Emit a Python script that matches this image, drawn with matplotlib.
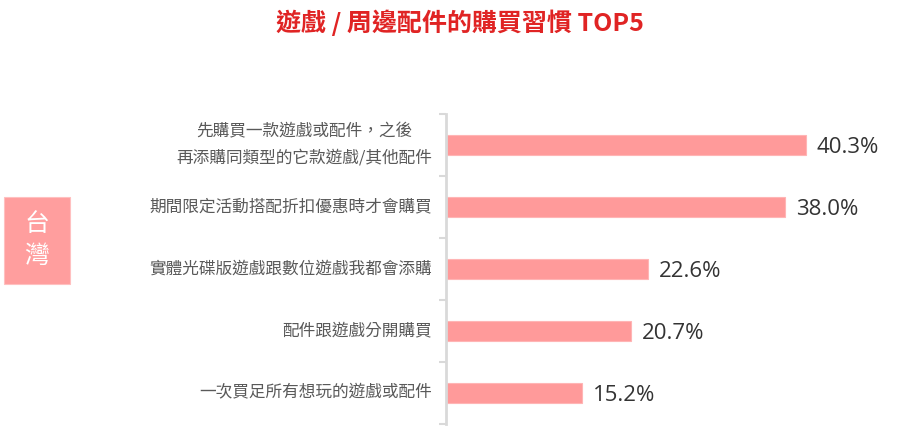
import matplotlib.pyplot as plt
import matplotlib.patches as mpatches

plt.rcParams['font.family'] = ['Noto Sans CJK TC', 'DejaVu Sans']

# data
categories = [
    '先購買一款遊戲或配件，之後\n再添購同類型的它款遊戲/其他配件',
    '期間限定活動搭配折扣優惠時才會購買',
    '實體光碟版遊戲跟數位遊戲我都會添購',
    '配件跟遊戲分開購買',
    '一次買足所有想玩的遊戲或配件',
]
values = [40.3, 38.0, 22.6, 20.7, 15.2]
title = '遊戲 / 周邊配件的購買習慣 TOP5'
region = '台\n灣'

bar_color = '#FF9A9A'

fig = plt.figure(figsize=(9.18, 4.47), dpi=100)
ax = fig.add_axes([446 / 918, 23 / 447, 446.5 / 918, 310 / 447])

y = list(range(len(categories)))
ax.barh(y, values, height=0.32, color=bar_color, edgecolor='#FFB5B5', linewidth=0.8)
ax.set_ylim(len(categories) - 0.5, -0.5)
ax.set_xlim(0, 50)

for yi, v in zip(y, values):
    ax.text(v + 1.2, yi, f'{v:.1f}%', va='center_baseline', ha='left', fontsize=16,
            color='#333333', family=['Open Sans', 'DejaVu Sans'])

ax.set_yticks(y)
ax.set_yticklabels(categories, fontsize=12, color='#595959', fontweight='light',
                   multialignment='center', linespacing=1.75, va='center')
ax.tick_params(axis='y', length=0, pad=10)
ax.set_yticks([i - 0.5 for i in range(len(categories) + 1)], minor=True)
ax.tick_params(axis='y', which='minor', length=5, width=1.5, color='#D9D9D9')
ax.set_xticks([])
for s in ['top', 'right', 'bottom']:
    ax.spines[s].set_visible(False)
ax.spines['left'].set_color('#D9D9D9')
ax.spines['left'].set_linewidth(2)

fig.text(460 / 918, 1 - 23 / 447, title, ha='center', va='center', fontsize=18,
         fontweight='bold', color='#E02424')

# region box
fig.patches.append(mpatches.Rectangle((4 / 918, 1 - 284 / 447), 66 / 918, 87 / 447,
                                      transform=fig.transFigure, facecolor='#FF9E9E',
                                      edgecolor='#FFC0C0', linewidth=0.8))
fig.text(37 / 918, 1 - 240 / 447, region, ha='center', va='center', fontsize=18,
         color='white', linespacing=1.3, fontweight='light')

fig.savefig('out.png', dpi=100)
